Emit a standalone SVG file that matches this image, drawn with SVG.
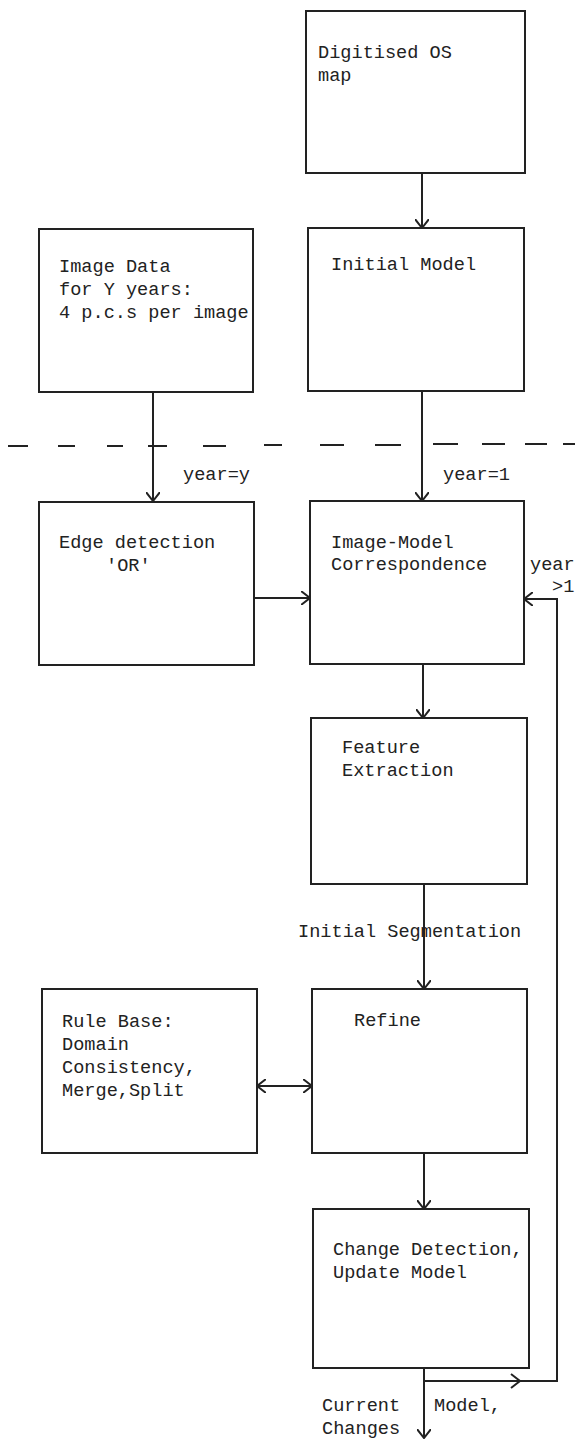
<svg xmlns="http://www.w3.org/2000/svg" width="575" height="1440" viewBox="0 0 575 1440">
<style>
.box{fill:#fff;stroke:#222;stroke-width:2}
.ln{fill:none;stroke:#222;stroke-width:2}
.t{font-family:"Liberation Mono","DejaVu Sans Mono",monospace;font-size:18.6px;fill:#222}
</style>
<defs>
<marker id="ah" viewBox="0 0 10 14" refX="9" refY="7" markerWidth="10" markerHeight="14" markerUnits="userSpaceOnUse" orient="auto-start-reverse">
<path d="M0,0 L9,7 L0,14" fill="none" stroke="#222" stroke-width="2"/>
</marker>
</defs>
<rect width="575" height="1440" fill="#fff"/>
<g id="divider">
<path class="ln" d="M8,446 H28 M58,446 H75 M107,446 H123 M148,446 H167 M203,446 H226 M264,445 H282 M320,445 H344 M375,445 H401 M433,444 H458 M482,444 H505 M525,444 H547 M563,444 H575"/>
</g>
<g id="connectors">
<path class="ln" d="M422,173 V228" marker-end="url(#ah)"/>
<path class="ln" d="M153,392 V501" marker-end="url(#ah)"/>
<path class="ln" d="M422,391 V501" marker-end="url(#ah)"/>
<path class="ln" d="M254,598 H310" marker-end="url(#ah)"/>
<path class="ln" d="M423,664 V718" marker-end="url(#ah)"/>
<path class="ln" d="M424,884 V989" marker-end="url(#ah)"/>
<path class="ln" d="M257,1086 H312" marker-start="url(#ah)" marker-end="url(#ah)"/>
<path class="ln" d="M424,1153 V1209" marker-end="url(#ah)"/>
<path class="ln" d="M424,1368 V1438" marker-end="url(#ah)"/>
<path class="ln" d="M424,1381 H557 V599 H524" marker-end="url(#ah)"/>
<path class="ln" d="M511,1374 L520,1381 L511,1388"/>
<text class="t" x="183" y="480">year=y</text>
<text class="t" x="443" y="480">year=1</text>
<text class="t" x="530" y="570">year</text>
<text class="t" x="552" y="592">&gt;1</text>
<text class="t" x="298" y="937">Initial Segmentation</text>
<text class="t" x="322" y="1411">Current</text>
<text class="t" x="322" y="1434">Changes</text>
<text class="t" x="434" y="1411">Model,</text>
</g>
<g id="digitised">
<rect class="box" x="306" y="11" width="219" height="162"/>
<text class="t" x="318" y="58">Digitised OS</text>
<text class="t" x="318" y="81">map</text>
</g>
<g id="imagedata">
<rect class="box" x="39" y="229" width="214" height="163"/>
<text class="t" x="59" y="272">Image Data</text>
<text class="t" x="59" y="295">for Y years:</text>
<text class="t" x="59" y="318">4 p.c.s per image</text>
</g>
<g id="initialmodel">
<rect class="box" x="308" y="228" width="216" height="163"/>
<text class="t" x="331" y="270">Initial Model</text>
</g>
<g id="edge">
<rect class="box" x="39" y="502" width="215" height="163"/>
<text class="t" x="59" y="548">Edge detection</text>
<text class="t" x="106" y="571">'OR'</text>
</g>
<g id="correspondence">
<rect class="box" x="310" y="501" width="214" height="163"/>
<text class="t" x="331" y="548">Image-Model</text>
<text class="t" x="331" y="570">Correspondence</text>
</g>
<g id="feature">
<rect class="box" x="311" y="718" width="216" height="166"/>
<text class="t" x="342" y="753">Feature</text>
<text class="t" x="342" y="776">Extraction</text>
</g>
<g id="rulebase">
<rect class="box" x="42" y="989" width="215" height="164"/>
<text class="t" x="62" y="1027">Rule Base:</text>
<text class="t" x="62" y="1050">Domain</text>
<text class="t" x="62" y="1073">Consistency,</text>
<text class="t" x="62" y="1096">Merge,Split</text>
</g>
<g id="refine">
<rect class="box" x="312" y="989" width="215" height="164"/>
<text class="t" x="354" y="1026">Refine</text>
</g>
<g id="change">
<rect class="box" x="313" y="1209" width="216" height="159"/>
<text class="t" x="333" y="1255">Change Detection,</text>
<text class="t" x="333" y="1278">Update Model</text>
</g>
</svg>
